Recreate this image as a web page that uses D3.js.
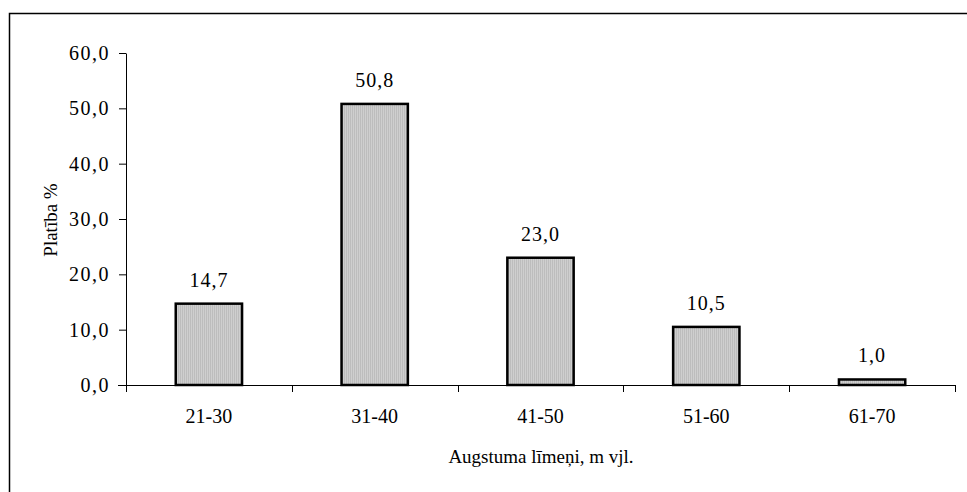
<!DOCTYPE html>
<html><head><meta charset="utf-8">
<script src="https://cdn.jsdelivr.net/npm/d3@7"></script>
<style>body{margin:0;background:#fff}svg{display:block}</style>
</head><body><svg id="c" width="967" height="492"></svg>
<script>
const categories = ["21-30","31-40","41-50","51-60","61-70"];
const values = [14.7, 50.8, 23.0, 10.5, 1.0];
const valueLabels = ["14,7","50,8","23,0","10,5","1,0"];
const yTicks = [0,10,20,30,40,50,60];
const yTitle = "Platība %";
const xTitle = "Augstuma līmeņi, m vjl.";

const FONT = "'Times New Roman', 'Liberation Serif', serif";
const svg = d3.select("#c");
const m = {left:126, right:955, top:53, bottom:385};

svg.append("rect").attr("x",9.5).attr("y",13.5).attr("width",1000).attr("height",600)
  .attr("fill","none").attr("stroke","#000").attr("stroke-width",1.5);

const x = d3.scaleBand().domain(categories).range([m.left, m.right]).paddingInner(0.6).paddingOuter(0.3);
const xb = d3.scaleLinear().domain([0, categories.length]).range([m.left, m.right]);
const y = d3.scaleLinear().domain([0,60]).range([m.bottom, m.top]);

const ya = svg.append("g").attr("transform",`translate(${m.left},0)`)
  .call(d3.axisLeft(y).tickValues(yTicks).tickSize(7).tickSizeOuter(0).tickPadding(9)
  .tickFormat(d => d3.format(".1f")(d).replace(".",",")));
ya.attr("font-family", FONT).attr("font-size", 20);
ya.selectAll("text").attr("fill","#000").attr("dy","0.32em").style("letter-spacing","1.5px");
ya.select(".domain").attr("stroke","#000");

svg.append("line").attr("x1",m.left-8).attr("x2",m.right).attr("y1",m.bottom+0.5).attr("y2",m.bottom+0.5)
  .attr("stroke","#000").attr("stroke-width",1);
svg.append("g").selectAll("line").data(d3.range(categories.length+1)).join("line")
  .attr("x1",d=>Math.round(xb(d))+0.5).attr("x2",d=>Math.round(xb(d))+0.5)
  .attr("y1",m.bottom).attr("y2",m.bottom+7).attr("stroke","#000");
svg.append("g").selectAll("text").data(categories).join("text")
  .attr("x",d=>x(d)+x.bandwidth()/2).attr("y",m.bottom+38)
  .attr("text-anchor","middle").attr("font-family",FONT).attr("font-size",20).text(d=>d);

const defs = svg.append("defs");
const pat = defs.append("pattern").attr("id","dots").attr("width",2).attr("height",2).attr("patternUnits","userSpaceOnUse");
pat.append("rect").attr("width",2).attr("height",2).attr("fill","#cfcfcf");
pat.append("rect").attr("width",1).attr("height",2).attr("fill","#bdbdbd");

svg.append("g").selectAll("rect").data(values).join("rect")
  .attr("x",(d,i)=>x(categories[i]))
  .attr("y",d=>y(d))
  .attr("width",x.bandwidth())
  .attr("height",d=>y(0)-y(d))
  .attr("fill","url(#dots)").attr("stroke","#000").attr("stroke-width",2.5);

svg.append("g").selectAll("text").data(values).join("text")
  .attr("x",(d,i)=>x(categories[i])+x.bandwidth()/2)
  .attr("y",d=>y(d)-17)
  .attr("text-anchor","middle").attr("font-family",FONT).attr("font-size",20)
  .style("letter-spacing","1px")
  .text((d,i)=>valueLabels[i]);

svg.append("text").attr("transform","translate(57,220) rotate(-90)")
  .attr("text-anchor","middle").attr("font-family",FONT).attr("font-size",19).text(yTitle);
svg.append("text").attr("x",541).attr("y",463).attr("text-anchor","middle")
  .attr("font-family",FONT).attr("font-size",19).text(xTitle);
</script></body></html>
